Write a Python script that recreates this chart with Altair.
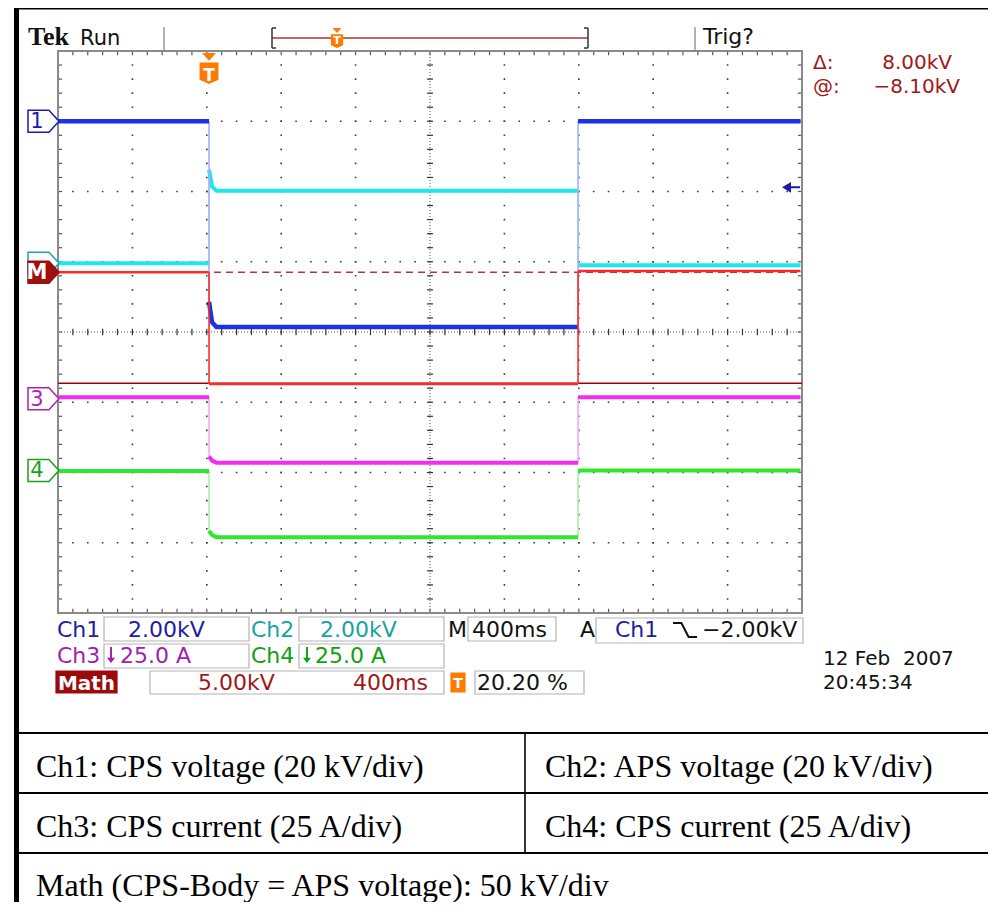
import altair as alt
import pandas as pd

# ---------------- waveform data (in screen divisions) ----------------
channels = ["Ch4", "Ch3", "Ch2", "Ch1", "Math"]
trace_colors = ["#2ee82e", "#f22cf2", "#1ee6ee", "#1c34e0", "#ff2a2a"]
edge_colors = ["#a8f0a8", "#f5a8f5", "#a8f2f5", "#a8b0f5", "#ff2a2a"]
trace_widths = [4, 4, 4, 4.5, 2.5]
level_before = [-1.98, -0.93, 0.98, 3.00, 0.85]
level_peak = [-2.83, -1.77, 2.31, 0.43, -0.74]
level_mid = [-2.89, -1.83, 2.07, 0.14, -0.74]
level_during = [-2.92, -1.86, 2.01, 0.07, -0.74]
level_after = [-1.97, -0.93, 0.95, 3.00, 0.87]
t_start, t_fall, t_mid, t_settle, t_rise, t_end = 0.0, 2.03, 2.07, 2.13, 6.99, 9.98

# cursors (Math channel) and trigger level
cursor_dashed = 0.85
cursor_solid = -0.73
trig_level = 2.06

# channel ground markers
marker_labels = ["4", "3", "2", "M", "1"]
marker_levels = [-1.97, -0.95, 0.98, 0.85, 3.0]
marker_stroke = ["#1aa01a", "#b020b0", "#19a8a8", "#9c1010", "#1c1ca8"]
marker_fill = ["#ffffff", "#ffffff", "#ffffff", "#9c1010", "#ffffff"]
marker_text = ["#1aa01a", "#b020b0", "#19a8a8", "#ffffff", "#1c1ca8"]
marker_label_visible = [True, True, False, True, True]

# status read-out texts
C1, C2, C3, C4, MR, BK = "#1c1ca8", "#19a3a3", "#a020b0", "#10a010", "#a01818", "#111111"
status_texts = [
    ("Ch1", 49, 629, C1), ("2.00kV", 120, 629, C1), ("Ch2", 243, 629, C2),
    ("2.00kV", 312, 629, C2), ("M", 440, 629, BK), ("400ms", 464, 629, BK),
    ("A", 572, 629, BK), ("Ch1", 607, 629, C1), ("\u22122.00kV", 694, 629, BK),
    ("Ch3", 49, 655, C3), ("25.0 A", 112, 655, C3),
    ("Ch4", 243, 655, C4), ("25.0 A", 307, 655, C4),
    ("5.00kV", 190, 682, MR), ("400ms", 345, 682, MR), ("20.20 %", 469, 682, BK),
]
date_texts = [("12 Feb\u00a0 2007", 815, 657), ("20:45:34", 815, 681)]
cursor_texts = [("\u0394:", 805, 61, "left"), ("8.00kV", 944, 61, "right"),
                ("@:", 805, 85, "left"), ("\u22128.10kV", 952, 85, "right")]
down_arrows = [(103, 647, C3), (299, 647, C4)]
status_boxes = [
    (96, 609, 241, 633), (291, 609, 436, 633), (460, 609, 548, 633), (588, 610, 795, 635),
    (96, 636, 241, 660), (291, 636, 436, 660),
    (142, 663, 436, 686), (467, 663, 576, 686),
]
table_cells = [
    ("Ch1: CPS voltage (20 kV/div)", 28, 769),
    ("Ch2: APS voltage (20 kV/div)", 537, 769),
    ("Ch3: CPS current (25 A/div)", 28, 829),
    ("Ch4: CPS current (25 A/div)", 537, 829),
    ("Math (CPS-Body = APS voltage): 50 kV/div", 28, 888),
]

# ---------------- helpers ----------------
FONT = "DejaVu Sans"
X = alt.Scale(domain=[0, 10], range=[50, 794])
Y = alt.Scale(domain=[-4, 4], range=[605, 43])
one = pd.DataFrame({"k": [0]})


def xq(f):
    return alt.X(f, type="quantitative", scale=X, axis=None)


def yq(f):
    return alt.Y(f, type="quantitative", scale=Y, axis=None)


def xd(v):
    return alt.XDatum(v, type="quantitative", scale=X, axis=None)


def yd(v):
    return alt.YDatum(v, type="quantitative", scale=Y, axis=None)


def label(txt, x, y, color, size=22, font=FONT, weight="normal", align="left"):
    return alt.Chart(one).mark_text(
        text=txt, font=font, fontSize=size, fontWeight=weight, color=color,
        align=align, baseline="alphabetic").encode(x=alt.value(x), y=alt.value(y))


def box(x1, y1, x2, y2, stroke="#b4b4b4", fill="#ffffff", sw=1.2):
    return alt.Chart(one).mark_rect(fill=fill, stroke=stroke, strokeWidth=sw).encode(
        x=alt.value(x1), x2=alt.value(x2), y=alt.value(y1), y2=alt.value(y2))


def seg(x1, y1, x2, y2, color, w):
    return alt.Chart(one).mark_rule(color=color, strokeWidth=w).encode(
        x=alt.value(x1), x2=alt.value(x2), y=alt.value(y1), y2=alt.value(y2))


def glyph(shape, x, y, size, color, filled=True, sw=1.5):
    return alt.Chart(one).mark_point(shape=shape, size=size, filled=filled, color=color,
                                     strokeWidth=sw, opacity=1).encode(x=alt.value(x), y=alt.value(y))


layers = []

# ---------------- graticule ----------------
fifths_x = pd.DataFrame({"t": [i / 5 for i in range(1, 50)]})
fifths_y = pd.DataFrame({"t": [-4 + i / 5 for i in range(1, 40)]})
major_x = pd.DataFrame({"x": [1, 2, 3, 4, 6, 7, 8, 9]})
major_y = pd.DataFrame({"y": [-3, -2, -1, 1, 2, 3]})

layers.append(alt.Chart(major_x).mark_rule(
    color="#3a3a3a", strokeWidth=1.6, strokeDash=[1.6, 12.45], strokeDashOffset=0.8
).encode(x=xq("x"), y=yd(-4), y2=alt.Y2Datum(4)))
layers.append(alt.Chart(major_y).mark_rule(
    color="#3a3a3a", strokeWidth=1.6, strokeDash=[1.6, 13.28], strokeDashOffset=0.8
).encode(y=yq("y"), x=xd(0), x2=alt.X2Datum(10)))
layers.append(alt.Chart(one).mark_rule(color="#555555", strokeWidth=1, strokeDash=[1, 2]).encode(
    x=xd(0), x2=alt.X2Datum(10), y=yd(0)))
layers.append(alt.Chart(one).mark_rule(color="#555555", strokeWidth=1, strokeDash=[1, 2]).encode(
    y=yd(-4), y2=alt.Y2Datum(4), x=xd(5)))
layers.append(alt.Chart(fifths_x).mark_rule(color="#333333", strokeWidth=1.2).encode(
    x=xq("t"), y=yd(-0.045), y2=alt.Y2Datum(0.045)))
layers.append(alt.Chart(fifths_y).mark_rule(color="#333333", strokeWidth=1.2).encode(
    y=yq("t"), x=xd(4.96), x2=alt.X2Datum(5.04)))
# border ticks
layers.append(alt.Chart(fifths_x).mark_rule(color="#555555", strokeWidth=1.2).encode(
    x=xq("t"), y=yd(4), y2=alt.Y2Datum(3.94)))
layers.append(alt.Chart(fifths_x).mark_rule(color="#555555", strokeWidth=1.2).encode(
    x=xq("t"), y=yd(-4), y2=alt.Y2Datum(-3.94)))
layers.append(alt.Chart(fifths_y).mark_rule(color="#555555", strokeWidth=1.2).encode(
    y=yq("t"), x=xd(0), x2=alt.X2Datum(0.055)))
layers.append(alt.Chart(fifths_y).mark_rule(color="#555555", strokeWidth=1.2).encode(
    y=yq("t"), x=xd(10), x2=alt.X2Datum(9.945)))
layers.append(alt.Chart(one).mark_rect(fill="transparent", stroke="#8a8a8a", strokeWidth=2).encode(
    x=xd(0), x2=alt.X2Datum(10), y=yd(-4), y2=alt.Y2Datum(4)))

# ---------------- cursors ----------------
layers.append(alt.Chart(pd.DataFrame({"v": [cursor_dashed]})).mark_rule(
    color="#b03a3a", strokeWidth=1.5, strokeDash=[7, 5]).encode(y=yq("v"), x=xd(0), x2=alt.X2Datum(10)))
layers.append(alt.Chart(pd.DataFrame({"v": [cursor_solid]})).mark_rule(
    color="#a00000", strokeWidth=1.5).encode(y=yq("v"), x=xd(0), x2=alt.X2Datum(10)))

# ---------------- traces ----------------
for i, ch in enumerate(channels):
    pts = [("pre", t_start, level_before[i]), ("pre", t_fall, level_before[i]),
           ("pulse", t_fall, level_peak[i]), ("pulse", t_mid, level_mid[i]),
           ("pulse", t_settle, level_during[i]), ("pulse", t_rise, level_during[i]),
           ("post", t_rise, level_after[i]), ("post", t_end, level_after[i])]
    df = pd.DataFrame([{"seg": s, "t": t, "v": v, "k": k} for k, (s, t, v) in enumerate(pts)])
    ed = pd.DataFrame([
        {"t": t_fall, "v1": level_before[i], "v2": level_peak[i]},
        {"t": t_rise, "v1": level_during[i], "v2": level_after[i]},
    ])
    layers.append(alt.Chart(ed).mark_rule(color=edge_colors[i], strokeWidth=1.6).encode(
        x=xq("t"), y=yq("v1"), y2="v2"))
    layers.append(alt.Chart(df).mark_line(color=trace_colors[i], strokeWidth=trace_widths[i]).encode(
        x=xq("t"), y=yq("v"), detail="seg:N", order="k:Q"))

# ---------------- channel markers ----------------
MARK_SHAPE = "M -1 -0.71 L 0.35 -0.71 L 1 0 L 0.35 0.71 L -1 0.71 Z"
mk = pd.DataFrame({"lab": marker_labels, "v": marker_levels, "s": marker_stroke,
                   "f": marker_fill, "tc": marker_text})
for j in range(5):
    r = mk.iloc[[j]]
    layers.append(alt.Chart(r).mark_point(shape=MARK_SHAPE, size=961, filled=True, strokeWidth=1.5, opacity=1).encode(
        x=alt.value(35.5), y=yq("v"), fill=alt.Fill("f:N", scale=None), stroke=alt.Stroke("s:N", scale=None)))
    if marker_label_visible[j]:
        layers.append(alt.Chart(r).mark_text(
            font=FONT, fontSize=21, fontWeight="bold" if marker_labels[j] == "M" else "normal",
            baseline="middle", align="center", dy=1).encode(
            x=alt.value(29), y=yq("v"), text="lab:N", color=alt.Color("tc:N", scale=None)))

# trigger level arrow (right edge)
ARROW = "M -1 0 L 0 -0.6 L 0 0.6 Z M 0 -0.12 L 1 -0.12 L 1 0.12 L 0 0.12 Z"
layers.append(alt.Chart(pd.DataFrame({"v": [trig_level]})).mark_point(
    shape=ARROW, size=324, filled=True, color="#1c1ca8", opacity=1).encode(x=alt.value(783), y=yq("v")))

# trigger position marker (orange T)
T_SHAPE = "M -0.45 -1 L 0.45 -1 L 0 -0.5 Z M -0.61 -0.38 L 0.61 -0.38 L 0.61 0.72 L 0 1 L -0.61 0.72 Z"
trig = pd.DataFrame({"t": [t_fall]})
layers.append(alt.Chart(trig).mark_point(shape=T_SHAPE, size=961, filled=True, color="#ff7a00", opacity=1).encode(
    x=xq("t"), y=alt.value(60.5)))
layers.append(alt.Chart(trig).mark_text(text="T", font=FONT, fontSize=17, fontWeight="bold", color="white",
                                        align="center", baseline="alphabetic").encode(x=xq("t"), y=alt.value(73)))

# ---------------- header ----------------
layers.append(label("Tek", 20, 37, "#111111", size=26, font="Liberation Serif", weight="bold"))
layers.append(label("Run", 72, 37, "#111111", size=21))
layers.append(seg(156, 19, 156, 42, "#9a9a9a", 1.5))
layers.append(seg(687, 19, 687, 42, "#9a9a9a", 1.5))
layers.append(label("Trig?", 695, 36, "#111111", size=22))
layers.append(seg(264, 30, 580, 30, "#b03030", 1.5))
layers.append(seg(264, 20, 264, 40, "#333333", 1.5))
layers.append(seg(264, 20, 268, 20, "#333333", 1.5))
layers.append(seg(264, 40, 268, 40, "#333333", 1.5))
layers.append(seg(580, 20, 580, 40, "#333333", 1.5))
layers.append(seg(576, 20, 580, 20, "#333333", 1.5))
layers.append(seg(576, 40, 580, 40, "#333333", 1.5))
layers.append(glyph(T_SHAPE, 329, 30, 400, "#ff7a00"))
layers.append(label("T", 329, 36, "white", size=11, weight="bold", align="center"))
for (txt, x, y, al) in cursor_texts:
    layers.append(label(txt, x, y, MR, size=20, align=al))

# ---------------- status area ----------------
for (x1, y1, x2, y2) in status_boxes:
    layers.append(box(x1, y1, x2, y2))
layers.append(box(48, 663, 109, 685, stroke="#9c0a0a", fill="#9c0a0a"))
layers.append(label("Math", 78.5, 682, "white", size=20, weight="bold", align="center"))
layers.append(box(443, 665, 457, 684, stroke="#ff7a00", fill="#ff7a00"))
layers.append(label("T", 450, 680, "white", size=14, weight="bold", align="center"))
for (txt, x, y, c) in status_texts:
    layers.append(label(txt, x, y, c, size=22))
for (txt, x, y) in date_texts:
    layers.append(label(txt, x, y, BK, size=20))
DOWN = "M -0.12 -1 L 0.12 -1 L 0.12 0.35 L 0.5 0.35 L 0 1 L -0.5 0.35 L -0.12 0.35 Z"
for (x, y, c) in down_arrows:
    layers.append(glyph(DOWN, x, y, 256, c))
EDGE_SYM = "M -1 -0.58 L -0.3 -0.58 L 0.3 0.58 L 1 0.58"
layers.append(glyph(EDGE_SYM, 677, 622, 576, "#111111", filled=False, sw=2))

# ---------------- frame and table ----------------
layers.append(seg(8.5, 0, 8.5, 894, "#000000", 5))
layers.append(seg(6, 0, 980, 0, "#000000", 3))
for yy in [725, 785, 845]:
    layers.append(seg(10, yy, 980, yy, "#000000", 2.2))
layers.append(seg(517, 725, 517, 845, "#000000", 1.6))
for (txt, x, y) in table_cells:
    layers.append(label(txt, x, y, "#000000", size=32, font="Liberation Serif"))

chart = alt.layer(*layers).properties(
    width=980, height=894, padding=0, autosize=alt.AutoSizeParams(type="none")
).configure_view(stroke=None)

chart.save("out.html", embed_options={"renderer": "svg", "actions": False})
